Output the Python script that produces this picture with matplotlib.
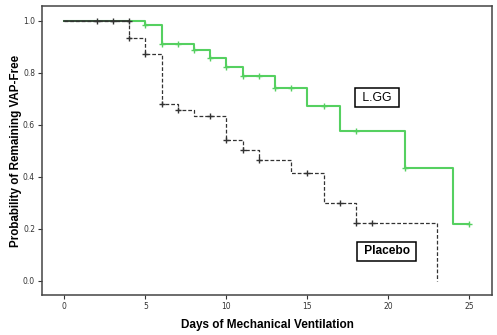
import matplotlib
matplotlib.use("Agg")
import matplotlib.pyplot as plt
import numpy as np

# Kaplan-Meier step curves (time in days, probability of remaining VAP-free)
lgg_times = [0, 5, 6, 8, 9, 10, 11, 13, 15, 17, 21, 24, 25]
lgg_surv = [1.0, 0.983, 0.912, 0.886, 0.855, 0.824, 0.788, 0.741, 0.673, 0.578, 0.433, 0.218, 0.218]
lgg_censored = [5, 6, 7, 8, 9, 10, 11, 12, 13, 14, 16, 18, 21, 25]

placebo_times = [0, 4, 5, 6, 7, 8, 10, 11, 12, 14, 16, 18, 23]
placebo_surv = [1.0, 0.932, 0.873, 0.681, 0.658, 0.632, 0.542, 0.504, 0.465, 0.414, 0.299, 0.224, 0.0]
placebo_censored = [4, 5, 6, 7, 9, 10, 11, 12, 15, 17, 18, 19]

# censoring shared by both arms while both curves are still at 1.0
shared_censored = [2, 3, 4]

x_ticks = [0, 5, 10, 15, 20, 25]
y_ticks = [0.0, 0.2, 0.4, 0.6, 0.8, 1.0]

green = "#55d060"
dark = "#333333"


def surv_at(times, surv, t):
    idx = np.searchsorted(times, t, side="right") - 1
    return surv[idx]


fig = plt.figure(figsize=(4.97, 3.35), dpi=100)
ax = fig.add_axes([0.0845, 0.1194, 0.9055, 0.8626])

ax.step(lgg_times, lgg_surv, where="post", color=green, lw=1.5, zorder=2)
ax.step(placebo_times, placebo_surv, where="post", color=dark, lw=0.9,
        ls=(0, (3, 1.6)), zorder=3)

# common segment before the first event in either arm
t_split = min(lgg_times[1], placebo_times[1])
ax.plot([0, t_split], [1.0, 1.0], color=dark, lw=1.2, zorder=4)

mk = dict(ls="none", marker="+", ms=5, mew=1.0, zorder=5)
ax.plot(lgg_censored, [surv_at(lgg_times, lgg_surv, t) for t in lgg_censored],
        color=green, **mk)
ax.plot(placebo_censored, [surv_at(placebo_times, placebo_surv, t) for t in placebo_censored],
        color=dark, **mk)
ax.plot(shared_censored, [1.0] * len(shared_censored), color=dark, **mk)

ax.set_xlim(-1.38, 26.4)
ax.set_ylim(-0.054, 1.0565)
ax.set_xticks(x_ticks)
ax.set_xticklabels([str(v) for v in x_ticks])
ax.set_yticks(y_ticks)
ax.set_yticklabels([f"{v:.1f}" for v in y_ticks])
ax.tick_params(axis="both", direction="out", length=3, width=0.8, color=dark,
               labelsize=5.5, labelcolor="#333333", pad=2)
for side in ax.spines.values():
    side.set_color("#444444")
    side.set_linewidth(1.1)

ax.set_xlabel("Days of Mechanical Ventilation", fontsize=8.5, fontweight="bold",
              family="Liberation Sans", labelpad=6)
ax.set_ylabel("Probability of Remaining VAP-Free", fontsize=8.4, fontweight="bold",
              family="Liberation Sans", labelpad=1)

box = dict(boxstyle="square,pad=0.3", fc="white", ec="black", lw=1.1)
ax.text(19.3, 0.71, " L.GG ", fontsize=8.8, family="Liberation Sans", ha="center",
        va="center_baseline", bbox=box)
ax.text(19.9, 0.119, " Placebo ", fontsize=8.6, fontweight="bold",
        family="Liberation Sans", ha="center", va="center_baseline", bbox=box)

fig.savefig("out.png", dpi=100)
